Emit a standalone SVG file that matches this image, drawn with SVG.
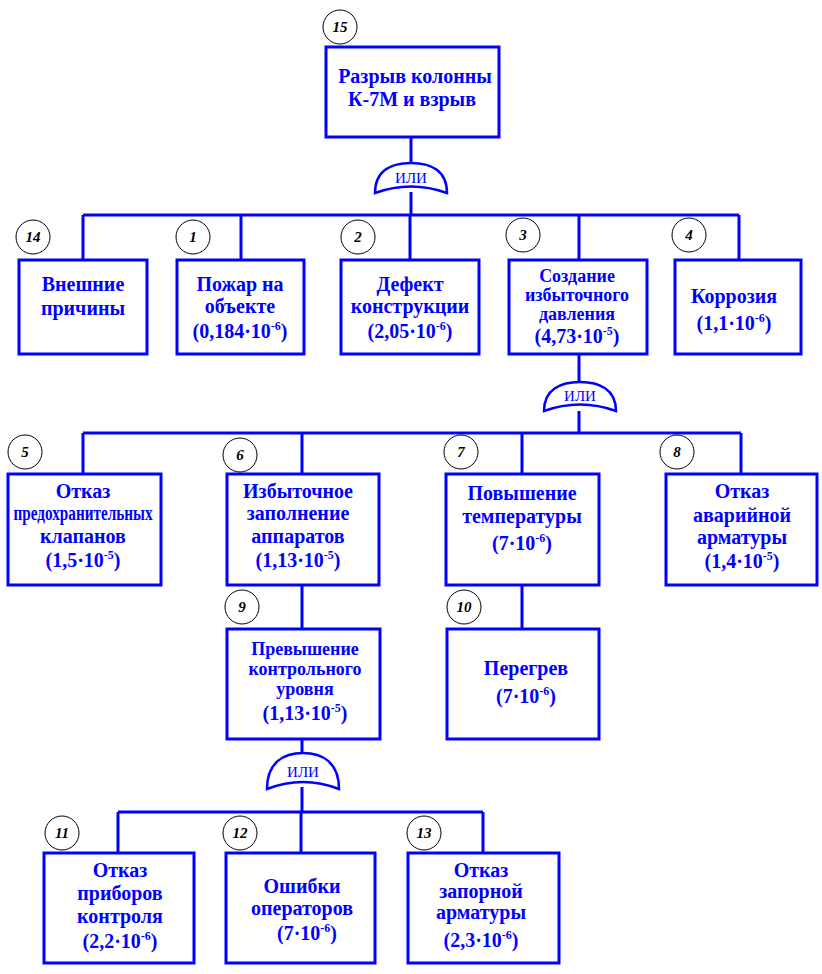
<svg xmlns="http://www.w3.org/2000/svg" width="822" height="974" viewBox="0 0 822 974">
<style>
.b{fill:#fff;stroke:#0000ff;stroke-width:3}
.l{fill:none;stroke:#0000ff;stroke-width:3}
.g{fill:#fff;stroke:#0000ff;stroke-width:2.5}
.t{font-family:"Liberation Serif","Times New Roman",serif;font-weight:bold;font-size:20px;fill:#0000ff;text-anchor:middle}
.k{font-size:18px}
.gt{font-family:"Liberation Serif","Times New Roman",serif;font-size:15px;fill:#0000ff;text-anchor:middle}
.c{fill:#fff;stroke:#000;stroke-width:1}
.n{font-family:"Liberation Serif","Times New Roman",serif;font-weight:bold;font-style:italic;font-size:15px;fill:#000;text-anchor:middle}
.s{font-size:12px}
</style>
<rect width="822" height="974" fill="#fff"/>
<g id="connectors">
<path class="l" d="M411 137V163M411 192V215M83 215H739M83 215V260M241 215V260M410 215V260M579 215V260M739 215V260"/>
<path class="l" d="M579 354V383M579 411V433M83 433H741M83 433V474M302 433V474M522 433V474M741 433V474"/>
<path class="l" d="M302 585V629M522 585V629"/>
<path class="l" d="M302 739V753M302 787V812M118 812H483M118 812V853M301 812V853M483 812V853"/>
</g>
<g id="gate1"><path class="g" d="M375 193C375 170 392 163 411 163C430 163 447 170 447 193Q411 180 375 193Z"/><text class="gt" x="411" y="183">ИЛИ</text></g>
<g id="gate2"><path class="g" d="M544 411C544 389 561 382 580 382C599 382 616 389 616 411Q580 398 544 411Z"/><text class="gt" x="580" y="401">ИЛИ</text></g>
<g id="gate3"><path class="g" d="M267 789C267 762 284 753 303 753C322 753 339 762 339 789Q303 775 267 789Z"/><text class="gt" x="303" y="777">ИЛИ</text></g>
<g id="n15"><rect class="b" x="326" y="47" width="173" height="90"/><text class="t" x="415" y="83">Разрыв колонны</text><text class="t" x="412" y="106">К-7М и взрыв</text><circle class="c" cx="340" cy="27" r="17"/><text class="n" x="340" y="32">15</text></g>
<g id="n14"><rect class="b" x="19" y="260" width="128" height="94"/><text class="t" x="83" y="291">Внешние</text><text class="t" x="83" y="315">причины</text><circle class="c" cx="33" cy="237" r="17"/><text class="n" x="33" y="242">14</text></g>
<g id="n1"><rect class="b" x="177" y="260" width="127" height="94"/><text class="t" x="240" y="291">Пожар на</text><text class="t" x="240" y="313">объекте</text><text class="t" x="240" y="338">(0,184·10<tspan class="s" dy="-8">-6</tspan><tspan dy="8">)</tspan></text><circle class="c" cx="193" cy="237" r="17"/><text class="n" x="193" y="242">1</text></g>
<g id="n2"><rect class="b" x="341" y="260" width="138" height="94"/><text class="t" x="410" y="291">Дефект</text><text class="t" x="410" y="313">конструкции</text><text class="t" x="410" y="338">(2,05·10<tspan class="s" dy="-8">-6</tspan><tspan dy="8">)</tspan></text><circle class="c" cx="358" cy="237" r="17"/><text class="n" x="358" y="242">2</text></g>
<g id="n3"><rect class="b" x="509" y="260" width="138" height="94"/><text class="t k" x="577" y="282">Создание</text><text class="t k" x="577" y="301">избыточного</text><text class="t k" x="577" y="320">давления</text><text class="t" x="577" y="343">(4,73·10<tspan class="s" dy="-8">-5</tspan><tspan dy="8">)</tspan></text><circle class="c" cx="523" cy="235" r="17"/><text class="n" x="523" y="240">3</text></g>
<g id="n4"><rect class="b" x="675" y="260" width="126" height="94"/><text class="t" x="734" y="303">Коррозия</text><text class="t" x="734" y="330">(1,1·10<tspan class="s" dy="-8">-6</tspan><tspan dy="8">)</tspan></text><circle class="c" cx="689" cy="235" r="17"/><text class="n" x="689" y="240">4</text></g>
<g id="n5"><rect class="b" x="8" y="474" width="153" height="111"/><text class="t" x="83" y="498">Отказ</text><text class="t" x="83" y="520" font-size="17" textLength="139" lengthAdjust="spacingAndGlyphs">предохранительных</text><text class="t" x="83" y="543">клапанов</text><text class="t" x="83" y="567">(1,5·10<tspan class="s" dy="-8">-5</tspan><tspan dy="8">)</tspan></text><circle class="c" cx="25" cy="452" r="17"/><text class="n" x="25" y="457">5</text></g>
<g id="n6"><rect class="b" x="227" y="474" width="152" height="111"/><text class="t" x="298" y="498">Избыточное</text><text class="t" x="298" y="520">заполнение</text><text class="t" x="298" y="543">аппаратов</text><text class="t" x="298" y="567">(1,13·10<tspan class="s" dy="-8">-5</tspan><tspan dy="8">)</tspan></text><circle class="c" cx="240" cy="455" r="17"/><text class="n" x="240" y="460">6</text></g>
<g id="n7"><rect class="b" x="446" y="474" width="153" height="111"/><text class="t" x="522" y="500">Повышение</text><text class="t" x="522" y="523">температуры</text><text class="t" x="522" y="550">(7·10<tspan class="s" dy="-8">-6</tspan><tspan dy="8">)</tspan></text><circle class="c" cx="461" cy="452" r="17"/><text class="n" x="461" y="457">7</text></g>
<g id="n8"><rect class="b" x="666" y="474" width="151" height="111"/><text class="t" x="742" y="498">Отказ</text><text class="t" x="742" y="522">аварийной</text><text class="t" x="742" y="544">арматуры</text><text class="t" x="742" y="568">(1,4·10<tspan class="s" dy="-8">-5</tspan><tspan dy="8">)</tspan></text><circle class="c" cx="677" cy="452" r="17"/><text class="n" x="677" y="457">8</text></g>
<g id="n9"><rect class="b" x="227" y="629" width="153" height="110"/><text class="t k" x="305" y="655">Превышение</text><text class="t k" x="305" y="675">контрольного</text><text class="t k" x="305" y="695">уровня</text><text class="t" x="305" y="720">(1,13·10<tspan class="s" dy="-8">-5</tspan><tspan dy="8">)</tspan></text><circle class="c" cx="242" cy="607" r="17"/><text class="n" x="242" y="612">9</text></g>
<g id="n10"><rect class="b" x="447" y="629" width="152" height="110"/><text class="t" x="526" y="675">Перегрев</text><text class="t" x="526" y="703">(7·10<tspan class="s" dy="-8">-6</tspan><tspan dy="8">)</tspan></text><circle class="c" cx="464" cy="607" r="17"/><text class="n" x="464" y="612">10</text></g>
<g id="n11"><rect class="b" x="44" y="853" width="150" height="110"/><text class="t" x="120" y="877">Отказ</text><text class="t" x="120" y="900">приборов</text><text class="t" x="120" y="923">контроля</text><text class="t" x="120" y="948">(2,2·10<tspan class="s" dy="-8">-6</tspan><tspan dy="8">)</tspan></text><circle class="c" cx="62" cy="833" r="17"/><text class="n" x="62" y="838">11</text></g>
<g id="n12"><rect class="b" x="226" y="853" width="149" height="110"/><text class="t" x="302" y="893">Ошибки</text><text class="t" x="302" y="915">операторов</text><text class="t" x="307" y="940">(7·10<tspan class="s" dy="-8">-6</tspan><tspan dy="8">)</tspan></text><circle class="c" cx="240" cy="833" r="17"/><text class="n" x="240" y="838">12</text></g>
<g id="n13"><rect class="b" x="408" y="853" width="151" height="110"/><text class="t" x="481" y="877">Отказ</text><text class="t" x="481" y="898">запорной</text><text class="t" x="481" y="919">арматуры</text><text class="t" x="481" y="947">(2,3·10<tspan class="s" dy="-8">-6</tspan><tspan dy="8">)</tspan></text><circle class="c" cx="424" cy="833" r="17"/><text class="n" x="424" y="838">13</text></g>
</svg>
